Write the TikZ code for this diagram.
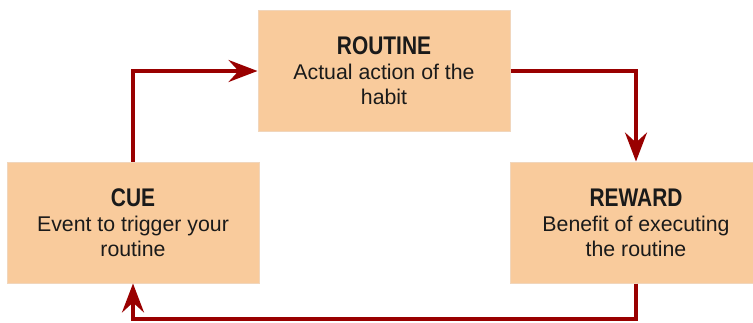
\documentclass[tikz,border=0pt]{standalone}
\usepackage{fontspec}
\setmainfont{Liberation Sans}
\newfontfamily\titlefont[FakeStretch=0.82]{Liberation Sans}
\usetikzlibrary{arrows.meta}
\definecolor{boxfill}{HTML}{F9CB9C}
\definecolor{boxline}{HTML}{F1D6BC}
\definecolor{arrowred}{HTML}{990000}
\definecolor{txt}{HTML}{1A1A1A}
\newcommand{\boxtitle}[1]{{\titlefont\bfseries\fontsize{25.5}{28}\selectfont #1}}
\tikzset{
  habitbox/.style={draw=boxline, line width=1pt, fill=boxfill, minimum width=252pt, minimum height=121pt,
    inner sep=0pt, align=center, text=txt, font=\fontsize{21.3}{25}\selectfont},
  loop/.style={draw=arrowred, line width=3.5pt, -{Stealth[length=29pt, width=22pt, inset=10pt]}}
}
\begin{document}
\begin{tikzpicture}[x=1pt, y=-1pt]
\useasboundingbox (0,0) rectangle (753,322);
\node[habitbox] (routine) at (384,71) {\boxtitle{ROUTINE}\\Actual action of the\\habit};
\node[habitbox] (cue) at (133,222.5) {\boxtitle{CUE}\\Event to trigger your\\routine};
\node[habitbox] (reward) at (636,222.5) {\boxtitle{REWARD}\\Benefit of executing\\the routine};
\coordinate (bl) at (133,319);
\coordinate (br) at (636,319);
\draw[loop] (cue.north) |- (routine.west);
\draw[loop] (routine.east) -| (reward.north);
\draw[loop] (reward.south) -- (br) -- (bl) -- (cue.south);
\end{tikzpicture}
\end{document}
